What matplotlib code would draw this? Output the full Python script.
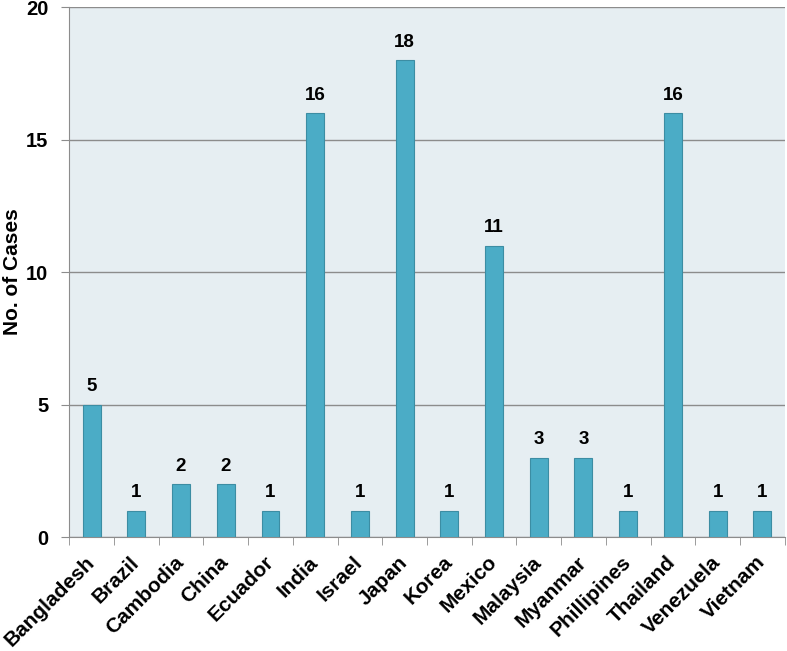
import matplotlib
matplotlib.use("Agg")
import matplotlib.pyplot as plt
import numpy as np

countries = ["Bangladesh", "Brazil", "Cambodia", "China", "Ecuador", "India", "Israel",
             "Japan", "Korea", "Mexico", "Malaysia", "Myanmar", "Phillipines", "Thailand",
             "Venezuela", "Vietnam"]
cases = [5, 1, 2, 2, 1, 16, 1, 18, 1, 11, 3, 3, 1, 16, 1, 1]

plt.rcParams['font.family'] = ['Liberation Sans', 'DejaVu Sans']
plt.rcParams['font.weight'] = 'bold'

fig = plt.figure(figsize=(7.87, 6.51), dpi=100)
ax = fig.add_axes([0.088, 0.175, 0.909, 0.814])
ax.set_facecolor("#E6EEF2")

x = np.arange(len(countries))
bars = ax.bar(x, cases, width=0.4, color="#4BACC6", edgecolor="#3C8DA3", linewidth=0.8, zorder=3)
for xi, v in zip(x, cases):
    ax.text(xi, v + 0.35, str(v), ha="center", va="bottom", fontsize=13.5, fontweight="bold")

ax.set_xlim(-0.5, len(countries) - 0.5)
ax.set_ylim(0, 20)
ax.set_yticks([0, 5, 10, 15, 20])
ax.yaxis.grid(True, color="#8C8C8C", linewidth=1.0, zorder=0)
ax.tick_params(axis="y", length=6, color="#8C8C8C", labelsize=14.5, pad=9)

ax.set_xticks(x)
ax.set_xticklabels(countries, rotation=45, ha="right", va="center", rotation_mode="anchor", fontsize=15)
ax.tick_params(axis="x", which="major", length=0, pad=16)
ax.set_xticks(np.arange(-0.5, len(countries)), minor=True)
ax.tick_params(axis="x", which="minor", length=6, color="#8C8C8C")

for s in ["top", "right"]:
    ax.spines[s].set_visible(False)
ax.spines["left"].set_color("#8C8C8C")
ax.spines["bottom"].set_color("#8C8C8C")

# y label placed by hand so it stays inside the figure
fig.text(0.016, 1 - 272 / 651, "No. of Cases", rotation=90, ha="center", va="center",
         fontsize=15, fontweight="bold")

fig.savefig("out.png", dpi=100)
